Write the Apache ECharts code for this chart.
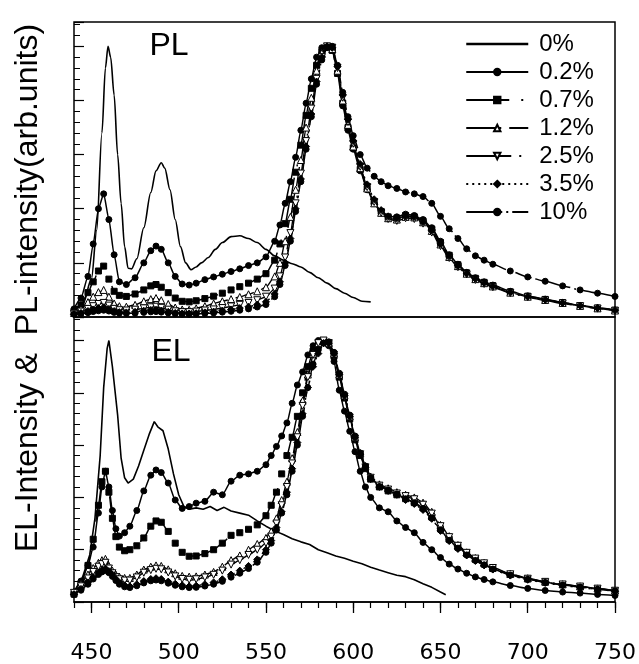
<!DOCTYPE html>
<html>
<head>
<meta charset="utf-8">
<script src="https://cdn.jsdelivr.net/npm/echarts@6/dist/echarts.min.js"></script>
<style>
html,body{margin:0;padding:0;background:#fff;}
#chart{width:639px;height:664px;}
</style>
</head>
<body>
<div id="chart"></div>
<script>
// ---------- data ----------
const seriesNames = ['0%', '0.2%', '0.7%', '1.2%', '2.5%', '3.5%', '10%'];
const xTickLabels = [450, 500, 550, 600, 650, 700, 750];

// PL, undoped (0%)
const PL0X = [440,445,450,453,456,458,459.5,461,463,465, 467,469,471,473,476,480,484,487,490,492, 495,498,501,504,507,510,513,517,521,525, 530,535,540,545,550,555,560,565,570,575, 580,585,590,595,600,605,610];
const PL_0 = [0.02,0.045,0.14,0.32,0.68,0.92,1.0,0.96,0.82,0.6, 0.42,0.26,0.18,0.178,0.215,0.33,0.46,0.54,0.57,0.55, 0.47,0.36,0.26,0.2,0.175,0.185,0.2,0.22,0.25,0.275, 0.297,0.30,0.29,0.275,0.25,0.226,0.21,0.197,0.185,0.165, 0.145,0.125,0.105,0.088,0.072,0.058,0.056];

// PL, doped curves share this wavelength list
const PLX = [440,444,448,451,454,457,460,463,466,470, 475,480,484,487,490,494,498,502,506,510, 515,520,525,530,535,540,545,550,555,558, 561,564,567,570,573,576,579,582,585,588, 591,594,597,600,604,608,612,616,620,625, 630,635,640,645,650,655,660,665,670,675, 680,690,700,710,720,730,740,750];
const PL_02 = [0.03,0.07,0.15,0.27,0.40,0.455,0.36,0.23,0.13,0.12, 0.145,0.20,0.245,0.262,0.25,0.20,0.15,0.122,0.118,0.125, 0.138,0.148,0.158,0.168,0.178,0.19,0.2,0.222,0.28,0.34, 0.42,0.50,0.59,0.69,0.79,0.88,0.96,0.995,1.0,0.99, 0.9,0.78,0.69,0.62,0.54,0.47,0.42,0.39,0.37,0.37, 0.38,0.375,0.36,0.33,0.28,0.23,0.195,0.165,0.145,0.13, 0.118,0.095,0.078,0.066,0.054,0.043,0.034,0.026];
const PL_07 = [0.02,0.045,0.09,0.13,0.17,0.188,0.14,0.095,0.08,0.076, 0.085,0.1,0.115,0.12,0.11,0.09,0.07,0.058,0.056,0.06, 0.068,0.077,0.088,0.1,0.112,0.125,0.14,0.16,0.21,0.27, 0.345,0.435,0.535,0.635,0.745,0.845,0.93,0.98,1.0,0.985, 0.9,0.79,0.7,0.625,0.545,0.475,0.425,0.39,0.37,0.365, 0.375,0.37,0.355,0.325,0.275,0.228,0.193,0.163,0.143,0.128, 0.116,0.093,0.077,0.065,0.053,0.042,0.033,0.025];
const PL_12 = [0.015,0.03,0.055,0.075,0.092,0.1,0.075,0.05,0.04,0.038, 0.045,0.058,0.066,0.07,0.062,0.048,0.035,0.028,0.027,0.032, 0.04,0.05,0.058,0.066,0.074,0.084,0.095,0.11,0.15,0.2, 0.28,0.37,0.47,0.58,0.7,0.81,0.91,0.975,1.0,0.99, 0.91,0.8,0.71,0.63,0.55,0.475,0.42,0.385,0.365,0.36, 0.37,0.368,0.35,0.318,0.268,0.222,0.188,0.16,0.14,0.125, 0.113,0.09,0.075,0.063,0.052,0.041,0.032,0.024];
const PL_25 = [0.012,0.02,0.03,0.04,0.048,0.052,0.042,0.03,0.025,0.024, 0.027,0.032,0.036,0.038,0.034,0.027,0.021,0.018,0.018,0.02, 0.024,0.028,0.033,0.039,0.045,0.052,0.062,0.075,0.105,0.15, 0.22,0.31,0.42,0.53,0.65,0.77,0.88,0.96,1.0,0.995, 0.92,0.81,0.72,0.64,0.555,0.48,0.425,0.385,0.362,0.355, 0.365,0.362,0.345,0.312,0.262,0.218,0.184,0.157,0.137,0.122, 0.11,0.088,0.073,0.061,0.05,0.04,0.031,0.023];
const PL_35 = [0.01,0.015,0.022,0.028,0.033,0.036,0.03,0.022,0.018,0.017, 0.019,0.023,0.026,0.027,0.024,0.019,0.015,0.013,0.013,0.014, 0.017,0.02,0.024,0.028,0.033,0.038,0.046,0.056,0.085,0.13, 0.2,0.29,0.4,0.51,0.63,0.75,0.87,0.96,1.0,0.995, 0.925,0.82,0.73,0.65,0.565,0.49,0.435,0.395,0.372,0.365, 0.372,0.37,0.352,0.32,0.27,0.225,0.19,0.162,0.142,0.127, 0.115,0.092,0.076,0.064,0.052,0.042,0.033,0.025];
const PL_10 = [0.01,0.012,0.016,0.02,0.023,0.025,0.022,0.017,0.014,0.013, 0.014,0.017,0.019,0.02,0.018,0.015,0.012,0.01,0.01,0.011, 0.013,0.015,0.018,0.021,0.025,0.03,0.037,0.046,0.075,0.12, 0.19,0.28,0.39,0.5,0.62,0.74,0.86,0.95,0.995,1.0, 0.93,0.83,0.74,0.67,0.6,0.55,0.52,0.5,0.485,0.475, 0.462,0.455,0.445,0.42,0.372,0.326,0.29,0.252,0.226,0.21, 0.195,0.17,0.148,0.132,0.115,0.1,0.088,0.076];

// EL, undoped (0%)
const EL0X = [440,445,449,452,455,457,459,460,462,465, 467,469,471,474,477,480,483,486,488,491, 494,497,500,503,506,510,514,518,522,526, 530,535,540,545,550,555,560,565,570,575, 580,585,590,595,600,605,610,615,620,625, 630,635,640,645,650,653];
const EL_0 = [0.035,0.097,0.18,0.32,0.56,0.82,0.97,1.0,0.9,0.715, 0.55,0.475,0.455,0.47,0.52,0.58,0.64,0.69,0.67,0.655, 0.585,0.49,0.41,0.365,0.355,0.36,0.355,0.365,0.35,0.362, 0.348,0.34,0.332,0.31,0.29,0.272,0.258,0.242,0.23,0.22, 0.2,0.188,0.176,0.167,0.156,0.146,0.133,0.122,0.112,0.102, 0.097,0.085,0.07,0.056,0.038,0.028];

// EL, doped curves share this wavelength list
const ELX = [440,444,448,451,454,456,458,460,462,464, 466,469,472,476,480,484,487,490,494,498, 502,506,510,515,520,525,530,535,540,545, 550,553,556,559,562,565,568,571,574,577, 580,583,586,589,592,595,598,601,604,607, 610,615,620,625,630,635,640,645,650,655, 660,665,670,675,680,690,700,710,720,730, 740,750];
const EL_02 = [0.037,0.08,0.14,0.21,0.34,0.44,0.5,0.44,0.35,0.28, 0.252,0.265,0.29,0.35,0.425,0.485,0.505,0.495,0.455,0.39, 0.358,0.365,0.378,0.385,0.42,0.41,0.462,0.485,0.49,0.5, 0.525,0.56,0.595,0.635,0.685,0.76,0.83,0.88,0.945,0.98, 1.0,1.0,0.98,0.92,0.81,0.73,0.653,0.575,0.5,0.44, 0.4,0.36,0.345,0.31,0.285,0.265,0.228,0.2,0.17,0.145, 0.126,0.11,0.096,0.086,0.077,0.063,0.052,0.044,0.038,0.034, 0.029,0.025];
const EL_07 = [0.03,0.07,0.14,0.24,0.37,0.46,0.5,0.42,0.32,0.25, 0.21,0.196,0.2,0.215,0.245,0.29,0.31,0.305,0.27,0.225, 0.19,0.175,0.176,0.185,0.2,0.225,0.255,0.265,0.278,0.295, 0.33,0.37,0.42,0.49,0.56,0.63,0.71,0.8,0.9,0.96, 0.99,1.0,0.99,0.94,0.86,0.78,0.7,0.62,0.56,0.51, 0.47,0.44,0.425,0.41,0.395,0.38,0.36,0.325,0.28,0.24, 0.21,0.185,0.163,0.145,0.128,0.105,0.088,0.076,0.066,0.058, 0.05,0.043];
const EL_12 = [0.04,0.07,0.105,0.13,0.15,0.16,0.165,0.138,0.12,0.105, 0.097,0.092,0.092,0.105,0.124,0.135,0.14,0.138,0.125,0.11, 0.1,0.097,0.098,0.105,0.115,0.135,0.16,0.178,0.2,0.222, 0.245,0.27,0.32,0.39,0.46,0.55,0.65,0.77,0.87,0.95, 0.99,1.0,0.99,0.95,0.87,0.79,0.71,0.63,0.57,0.52, 0.48,0.45,0.435,0.42,0.41,0.4,0.38,0.345,0.295,0.252, 0.218,0.19,0.168,0.15,0.132,0.108,0.091,0.078,0.068,0.06, 0.052,0.044];
const EL_25 = [0.035,0.06,0.09,0.115,0.135,0.145,0.15,0.128,0.11,0.095, 0.087,0.082,0.082,0.094,0.112,0.122,0.127,0.125,0.113,0.098, 0.088,0.085,0.087,0.094,0.104,0.12,0.143,0.16,0.18,0.2, 0.225,0.25,0.3,0.37,0.44,0.53,0.63,0.75,0.86,0.945, 0.99,1.0,0.99,0.945,0.865,0.785,0.705,0.625,0.565,0.515, 0.475,0.445,0.43,0.415,0.405,0.393,0.372,0.338,0.29,0.248, 0.215,0.188,0.166,0.148,0.13,0.106,0.089,0.077,0.067,0.059, 0.051,0.043];
const EL_35 = [0.03,0.05,0.075,0.095,0.113,0.122,0.128,0.118,0.105,0.088, 0.073,0.064,0.06,0.068,0.08,0.088,0.091,0.088,0.078,0.07, 0.064,0.06,0.062,0.068,0.075,0.087,0.105,0.12,0.138,0.163, 0.2,0.235,0.285,0.345,0.42,0.51,0.61,0.72,0.82,0.9, 0.95,0.99,0.99,0.95,0.87,0.79,0.71,0.63,0.565,0.515, 0.47,0.44,0.425,0.41,0.39,0.375,0.352,0.318,0.272,0.233, 0.203,0.178,0.157,0.14,0.124,0.101,0.085,0.073,0.063,0.055, 0.048,0.041];
const EL_10 = [0.028,0.045,0.068,0.088,0.105,0.115,0.12,0.112,0.098,0.082, 0.068,0.058,0.055,0.062,0.073,0.081,0.084,0.081,0.072,0.064, 0.058,0.055,0.056,0.061,0.068,0.079,0.095,0.11,0.128,0.152, 0.19,0.225,0.275,0.34,0.41,0.5,0.6,0.71,0.82,0.91, 0.965,0.99,0.995,0.955,0.875,0.795,0.715,0.635,0.57,0.52, 0.475,0.442,0.428,0.413,0.395,0.38,0.358,0.322,0.276,0.236, 0.206,0.18,0.159,0.142,0.126,0.103,0.087,0.075,0.065,0.057, 0.049,0.042];

// ---------- styling ----------
const FONT = '"Liberation Sans", Arial, Helvetica, sans-serif';
const TICKFONT = '"DejaVu Sans", "Liberation Sans", Arial, sans-serif';
const STY = {
  '0%':   {symbol: 'none', size: 0, fill: '#000', dash: 'solid', width: 1.6},
  '0.2%': {symbol: 'circle', size: 6, fill: '#000', dash: 'solid', width: 1.5},
  '0.7%': {symbol: 'rect', size: 6, fill: '#000', dash: [43, 12, 2, 20], width: 1.5},
  '1.2%': {symbol: 'triangle', size: 7, fill: '#fff', dash: [35, 8, 19, 8], width: 1.4},
  '2.5%': {symbol: 'triangle', size: 7, fill: '#fff', dash: [45, 8, 2, 8], width: 1.4, rotate: 180},
  '3.5%': {symbol: 'diamond', size: 7, fill: '#000', dash: [2, 4], width: 1.4},
  '10%':  {symbol: 'circle', size: 6, fill: '#000', dash: [36, 4, 2, 4, 17, 4], width: 1.5}
};

function mk(name, xs, ys, panel, smooth) {
  const s = STY[name];
  return {
    name: name,
    type: 'line',
    xAxisIndex: panel === 0 ? 0 : 1,
    yAxisIndex: panel === 0 ? 0 : 2,
    data: xs.map((x, i) => [x, ys[i]]),
    symbol: s.symbol,
    symbolSize: s.size,
    symbolRotate: s.rotate || 0,
    showSymbol: s.symbol !== 'none',
    smooth: smooth,
    smoothMonotone: 'x',
    lineStyle: {color: '#000', width: s.width, type: s.dash},
    itemStyle: {color: s.fill, borderColor: '#000', borderWidth: 1},
    emphasis: {disabled: true},
    silent: true,
    z: 2
  };
}

const series = [
  mk('0%', PL0X, PL_0, 0, 0.3),
  mk('0.2%', PLX, PL_02, 0, 0.2),
  mk('0.7%', PLX, PL_07, 0, 0.2),
  mk('1.2%', PLX, PL_12, 0, 0.2),
  mk('2.5%', PLX, PL_25, 0, 0.2),
  mk('3.5%', PLX, PL_35, 0, 0.2),
  mk('10%', PLX, PL_10, 0, 0.2),
  mk('0%', EL0X, EL_0, 1, false),
  mk('0.2%', ELX, EL_02, 1, 0.2),
  mk('0.7%', ELX, EL_07, 1, 0.2),
  mk('1.2%', ELX, EL_12, 1, 0.2),
  mk('2.5%', ELX, EL_25, 1, 0.2),
  mk('3.5%', ELX, EL_35, 1, 0.2),
  mk('10%', ELX, EL_10, 1, 0.2)
];

const GL = 74, GW = 541;
const yMax = 1.09;

function yMajor(gi) {
  return {type: 'value', gridIndex: gi, position: 'left', offset: 0, min: 0, max: yMax, interval: 0.2,
    axisLine: {show: false}, axisLabel: {show: false}, splitLine: {show: false},
    axisTick: {show: true, inside: true, length: 10, lineStyle: {color: '#000', width: 1.2}}};
}
function yMinor(gi) {
  return {type: 'value', gridIndex: gi, position: 'left', offset: 0, min: 0, max: yMax, interval: 0.04,
    axisLine: {show: false}, axisLabel: {show: false}, splitLine: {show: false},
    axisTick: {show: true, inside: true, length: 6, lineStyle: {color: '#000', width: 1}}};
}

const option = {
  animation: false,
  backgroundColor: '#fff',
  grid: [
    {left: GL, top: 22, width: GW, height: 295, show: true, borderColor: '#000', borderWidth: 1.5, backgroundColor: 'transparent'},
    {left: GL, top: 317, width: GW, height: 296, show: true, borderColor: '#000', borderWidth: 1.5, backgroundColor: 'transparent'}
  ],
  xAxis: [
    {type: 'value', gridIndex: 0, min: 440, max: 750, interval: 10,
      axisLine: {show: false}, axisTick: {show: false}, axisLabel: {show: false}, splitLine: {show: false}},
    {type: 'value', gridIndex: 1, position: 'bottom', min: 440, max: 750, interval: 10,
      axisLine: {show: true, lineStyle: {color: '#000', width: 1.5}},
      axisTick: {show: true, inside: false, length: 6, lineStyle: {color: '#000', width: 1.2}},
      axisLabel: {show: false}, splitLine: {show: false}},
    {type: 'value', gridIndex: 1, position: 'bottom', offset: 0, min: 440, max: 750, interval: 10,
      axisLine: {show: false},
      axisTick: {show: true, inside: false, length: 11, customValues: xTickLabels, lineStyle: {color: '#000', width: 1.3}},
      axisLabel: {show: true, customValues: xTickLabels, margin: 40, color: '#000', fontSize: 22, fontFamily: TICKFONT},
      splitLine: {show: false}}
  ],
  yAxis: [yMajor(0), yMinor(0), yMajor(1), yMinor(1)],
  legend: {
    orient: 'vertical',
    left: 460,
    top: 27,
    itemWidth: 62,
    itemHeight: 8,
    itemGap: 4,
    selectedMode: false,
    textStyle: {color: '#000', fontSize: 24, fontFamily: FONT, padding: [0, 0, 0, 6]},
    data: [
      {name: '0%', itemStyle: {opacity: 0}, lineStyle: {width: 2.5}},
      '0.2%', '0.7%', '1.2%', '2.5%', '3.5%', '10%'
    ]
  },
  graphic: [
    {type: 'text', x: 28.5, y: 288, rotation: Math.PI / 2, silent: true,
      style: {text: 'EL-Intensity &  PL-intensity(arb.units)', fill: '#000', font: '32px ' + FONT, align: 'center', verticalAlign: 'middle'}},
    {type: 'text', x: 169, y: 46.5, silent: true,
      style: {text: 'PL', fill: '#000', font: '32px ' + FONT, align: 'center', verticalAlign: 'middle'}},
    {type: 'text', x: 171, y: 352.5, silent: true,
      style: {text: 'EL', fill: '#000', font: '32px ' + FONT, align: 'center', verticalAlign: 'middle'}}
  ],
  series: series
};

const chart = echarts.init(document.getElementById('chart'), null, {renderer: 'canvas'});
chart.setOption(option);
</script>
</body>
</html>
